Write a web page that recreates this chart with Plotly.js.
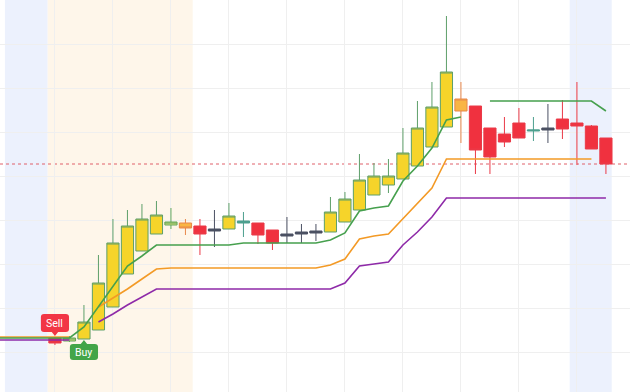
<!DOCTYPE html>
<html>
<head>
<meta charset="utf-8">
<script src="https://cdn.plot.ly/plotly-3.0.1.min.js"></script>
<style>html,body{margin:0;padding:0;background:#fff;}#chart{width:630px;height:392px;}</style>
</head>
<body>
<div id="chart"></div>
<script>
// ---- data (candle index, prices in chart units) ----
const candleIdx = [0,1,2,3,4,5,6,7,8,9,10,11,12,13,14,15,16,17,18,19,20,21,22,23,24,25,26,27,28,29,30,31,32,33,34,35,36,37,38];
const openV  = [54,51,53,62,85,118,141,158,167,169,166,161,163,169,169,162,156,158,159,160,170,182,197,207,213,226,245,265,281,286,264,258,269,261,262,273,269,266,254];
const highV  = [55,56,87,137,173,182,188,191,184,173,173,182,189,180,169,162,175,168,168,195,200,238,229,233,264,291,310,376,310,286,264,275,284,275,288,292,310,267,254];
const lowV   = [47,50,53,62,85,118,141,158,163,157,137,145,163,155,148,142,149,149,151,160,170,182,197,199,213,226,245,265,249,218,218,245,254,251,249,253,227,243,218];
const closeV = [49,54,70,109,149,166,173,177,170,164,158,163,176,171,157,149,158,160,161,180,193,212,216,216,239,264,285,320,293,242,235,250,254,262,264,263,266,243,228];
const candleStyle = ['down','lime','up','up','up','up','up','up','lime','amber','down','dark','up','teal','down','down','dark','dark','dark','up','up','up','up','up','up','up','up','up','amber','down','down','down','down','teal','dark','down','down','down','down'];

// trailing lines (start 4 bars before first candle)
const lineIdx = [-4,-3,-2,-1,0,1,2,3,4,5,6,7,8,9,10,11,12,13,14,15,16,17,18,19,20,21,22,23,24,25,26,27,28,29,30,31,32,33,34,35,36,37,38];
const greenLine  = [54,54,54,54,54,54,65,85,106,126,136,147,147,147,147,147,147,149,149,149,149,149,149,152,159,181,184,186,211,226,244,272,275,null,291,291,291,291,291,291,291,291,281];
const orangeLine = [55,55,55,55,55,55,null,85,94,103,113,123,124,124,124,124,124,124,124,124,124,124,124,127,133,153,156,158,173,188,204,233,233,233,233,233,233,233,233,233,233,233,null];
const purpleLine = [52,52,52,52,52,52,null,70,78,87,95,103,103,103,103,103,103,103,103,103,103,103,103,103,109,126,128,130,147,160,175,194,194,194,194,194,194,194,194,194,194,194,194];

// signals
const signalIdx  = [0, 2];
const signalText = ['Sell', 'Buy'];

// session shading (candle index ranges)
const blueZones   = [[-3.45, -0.5], [35.5, 38.4]];
const orangeZones = [[-0.5, 9.5]];

// ---- styles ----
const styles = {
  up:    {fill:'#f6d42a', line:'#5e9f6a'},
  down:  {fill:'#f0313f', line:'#ea3a48'},
  amber: {fill:'#f9b544', line:'#e8874a'},
  lime:  {fill:'#cfdc7a', line:'#62a65c'},
  teal:  {fill:'#4c9f8e', line:'#4c9f8e'},
  dark:  {fill:'#4b5063', line:'#4b5063'}
};

const traces = [];
// background lines first
traces.push({type:'scatter', mode:'lines', x:lineIdx, y:purpleLine, line:{color:'#8e2aa8', width:1.6}, hoverinfo:'skip', showlegend:false});
traces.push({type:'scatter', mode:'lines', x:lineIdx, y:orangeLine, line:{color:'#f39a26', width:1.6}, hoverinfo:'skip', showlegend:false});
traces.push({type:'scatter', mode:'lines', x:lineIdx, y:greenLine,  line:{color:'#46a04e', width:1.6}, hoverinfo:'skip', showlegend:false});

Object.keys(styles).forEach(function(k){
  const xs=[],o=[],h=[],l=[],c=[];
  candleIdx.forEach(function(xi,i){
    if(candleStyle[i]===k){xs.push(xi);o.push(openV[i]);h.push(highV[i]);l.push(lowV[i]);c.push(closeV[i]);}
  });
  if(!xs.length) return;
  const s = styles[k];
  traces.push({type:'candlestick', x:xs, open:o, high:h, low:l, close:c,
    increasing:{line:{color:s.line, width:1}, fillcolor:s.fill},
    decreasing:{line:{color:s.line, width:1}, fillcolor:s.fill},
    line:{width:1}, whiskerwidth:0, hoverinfo:'skip', showlegend:false});
});

const shapes = [];
blueZones.forEach(function(z){
  shapes.push({type:'rect', xref:'x', yref:'paper', x0:z[0], x1:z[1], y0:0, y1:1, fillcolor:'#ecf1fd', line:{width:0}, layer:'below'});
});
orangeZones.forEach(function(z){
  shapes.push({type:'rect', xref:'x', yref:'paper', x0:z[0], x1:z[1], y0:0, y1:1, fillcolor:'#fef6ea', line:{width:0}, layer:'below'});
});
// last price dotted line
const lastClose = closeV[closeV.length-1];
shapes.push({type:'line', xref:'paper', yref:'y', x0:0, x1:1, y0:lastClose, y1:lastClose, line:{color:'#e0606a', width:1, dash:'dot'}, layer:'below'});

// signal labels
const annotations = [];
function labelPath(cx, yb, yt, pointerUp, tipY){
  const hw=0.97, rx=0.22, ry=3, pw=0.22;
  const x0=cx-hw, x1=cx+hw;
  let p = 'M '+(x0+rx)+','+yt;
  if(pointerUp){ p += ' L '+(cx-pw)+','+yt+' L '+cx+','+tipY+' L '+(cx+pw)+','+yt; }
  p += ' L '+(x1-rx)+','+yt+' Q '+x1+','+yt+' '+x1+','+(yt-ry);
  p += ' L '+x1+','+(yb+ry)+' Q '+x1+','+yb+' '+(x1-rx)+','+yb;
  if(!pointerUp){ p += ' L '+(cx+pw)+','+yb+' L '+cx+','+tipY+' L '+(cx-pw)+','+yb; }
  p += ' L '+(x0+rx)+','+yb+' Q '+x0+','+yb+' '+x0+','+(yb+ry);
  p += ' L '+x0+','+(yt-ry)+' Q '+x0+','+yt+' '+(x0+rx)+','+yt+' Z';
  return p;
}
signalIdx.forEach(function(si,k){
  const i = candleIdx.indexOf(si);
  const isSell = signalText[k]==='Sell';
  let yb, yt, tip, col;
  if(isSell){ tip = highV[i]+1; yb = tip+4; yt = yb+18; col='#f23645'; }
  else { tip = lowV[i]-1; yt = tip-4; yb = yt-16; col='#43a548'; }
  shapes.push({type:'path', xref:'x', yref:'y', path:labelPath(si, yb, yt, !isSell, tip), fillcolor:col, line:{width:0}, layer:'above'});
  annotations.push({xref:'x', yref:'y', x:si, y:(yb+yt)/2, text:signalText[k], showarrow:false, font:{family:'Roboto, Arial, sans-serif', size:10.5, color:'#ffffff'}});
});

const layout = {
  width:630, height:392,
  margin:{l:0, r:0, t:0, b:0, pad:0},
  paper_bgcolor:'#ffffff', plot_bgcolor:'#ffffff',
  showlegend:false,
  boxgap:0.16, boxgroupgap:0,
  xaxis:{range:[-3.79, 39.66], tick0:0, dtick:4, showgrid:true, gridcolor:'#efefef', gridwidth:1,
         showticklabels:false, zeroline:false, showline:false, ticks:'', rangeslider:{visible:false}, fixedrange:true},
  yaxis:{range:[0, 392], tick0:40, dtick:44, showgrid:true, gridcolor:'#efefef', gridwidth:1,
         showticklabels:false, zeroline:false, showline:false, ticks:'', fixedrange:true},
  shapes:shapes,
  annotations:annotations
};

Plotly.newPlot('chart', traces, layout, {staticPlot:true, displayModeBar:false});
</script>
</body>
</html>
